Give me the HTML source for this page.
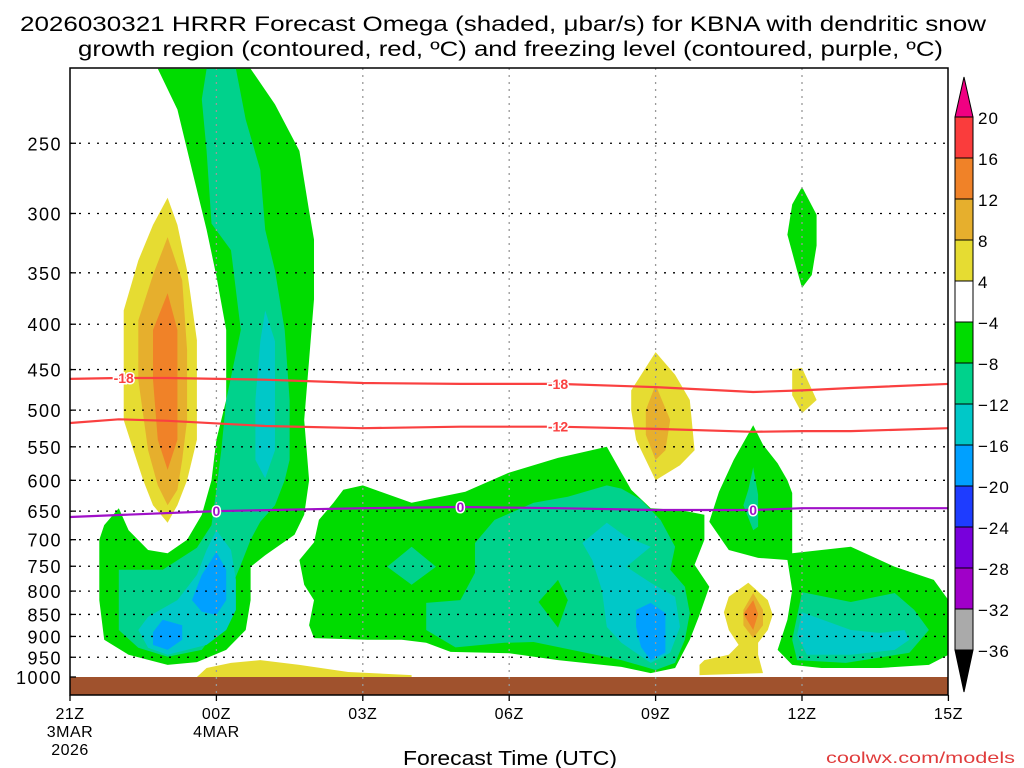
<!DOCTYPE html>
<html><head><meta charset="utf-8"><style>
html,body{margin:0;padding:0;background:#fff;}
svg{display:block;font-family:"Liberation Sans",sans-serif;}
</style></head><body>
<svg id="chart" width="1024" height="768" viewBox="0 0 1024 768">
<text x="20" y="31" font-size="21" textLength="966" lengthAdjust="spacingAndGlyphs">2026030321 HRRR Forecast Omega (shaded, μbar/s) for KBNA with dendritic snow</text>
<text x="78" y="56" font-size="21" textLength="865" lengthAdjust="spacingAndGlyphs">growth region (contoured, red, ºC) and freezing level (contoured, purple, ºC)</text>
<defs><clipPath id="pc"><rect x="70" y="68" width="878" height="627"/></clipPath></defs>
<g id="fills" clip-path="url(#pc)"></g>
<rect x="70" y="677" width="878" height="18" fill="#a0522d"/>
<g id="grid"></g>
<g id="lines" clip-path="url(#pc)"></g>
<rect x="70" y="68" width="878" height="627" fill="none" stroke="#000" stroke-width="1.5"/>
<g id="axes"></g>
<g id="cbar"></g>
<text x="403" y="765" font-size="20" textLength="214" lengthAdjust="spacingAndGlyphs">Forecast Time (UTC)</text>
<text x="826" y="763" font-size="16" fill="#e03c3c" textLength="189" lengthAdjust="spacingAndGlyphs">coolwx.com/models</text>
</svg>
<script>
// axis data
const pLevels=[250,300,350,400,450,500,550,600,650,700,750,800,850,900,950,1000];
const xTickHours=[0,3,6,9,12,15,18];
const xTickLabels=["21Z","00Z","03Z","06Z","09Z","12Z","15Z"];
const xTickSub1=["3MAR","4MAR","","","","",""];
const xTickSub2=["2026","","","","","",""];
// isotherm lines (hours since 21Z, pressure hPa)
const isoHours=[0,1,2,4,6,8,10,12,14,15,16,18];
const iso18=[461,460,460,462,466,467,467,471,477,475,472,467];
const iso12=[517,512,514,521,524,522,522,525,529,528,528,524];
const frzHours=[0,3,6,8,10,12,14,15,18];
const frz0=[660,650,645,643,645,648,648,645,645];
// contour regions [hour, hPa]
const greenLeft=[[1.8,206],[3.7,206],[4.2,226],[4.7,255],[4.9,298],[5.0,321],[5.0,375],[4.9,439],[4.8,513],[4.9,600],[4.8,656],[4.6,691],[4.0,729],[3.7,751],[3.7,819],[3.6,885],[3.2,932],[2.6,962],[2.0,969],[1.2,944],[0.7,908],[0.6,819],[0.6,700],[0.7,674],[1.0,645],[1.2,683],[1.6,719],[2.0,725],[2.4,700],[2.7,656],[2.9,600],[3.0,540],[3.2,487],[3.2,406],[3.0,353],[2.8,313],[2.5,268],[2.2,229]];
const tealLeft=[[2.8,206],[3.4,206],[3.6,235],[3.9,268],[4.0,313],[4.2,348],[4.4,406],[4.5,487],[4.5,569],[4.4,600],[4.2,640],[3.9,668],[3.7,700],[3.5,747],[3.2,819],[3.0,885],[2.7,932],[2.0,949],[1.4,927],[1.0,885],[1.0,757],[1.9,757],[2.6,715],[2.9,674],[3.0,615],[3.1,555],[3.2,487],[3.5,406],[3.3,330],[2.9,308],[2.8,255],[2.7,223]];
const cyanBand=[[4.0,386],[4.2,418],[4.2,487],[4.2,555],[4.0,597],[3.8,569],[3.8,487],[3.9,418]];
const cyanLow=[[3.0,683],[3.3,719],[3.4,777],[3.4,840],[3.2,885],[2.8,920],[2.0,944],[1.6,927],[1.4,885],[1.6,855],[2.2,819],[2.6,767],[2.8,719]];
const blueLow1=[[3.0,723],[3.2,757],[3.2,819],[3.0,851],[2.7,844],[2.5,819],[2.7,767]];
const blueLow2=[[1.9,862],[2.3,874],[2.3,908],[2.0,932],[1.7,920],[1.7,890]];
const yellowLeft=[[2.0,288],[2.2,309],[2.4,348],[2.6,417],[2.6,462],[2.6,540],[2.4,600],[2.2,640],[2.0,670],[1.7,640],[1.5,600],[1.3,555],[1.1,513],[1.1,386],[1.4,339],[1.7,309]];
const goldLeft=[[2.0,319],[2.3,357],[2.4,428],[2.4,513],[2.3,569],[2.2,615],[2.0,640],[1.8,608],[1.6,555],[1.4,462],[1.4,396],[1.7,352]];
const orangeLeft=[[2.0,369],[2.2,406],[2.2,487],[2.2,540],[2.0,584],[1.8,540],[1.7,462],[1.7,406]];
const yellowBottom=[[2.6,1000],[2.8,977],[3.3,964],[3.9,957],[4.7,969],[5.7,987],[7.0,995],[7.0,1000]];
const greenCenter=[[5.0,705],[5.1,665],[5.4,636],[5.6,615],[6.0,608],[7.0,636],[8.1,618],[9.0,588],[10.0,566],[11.0,550],[11.3,588],[11.5,615],[11.9,645],[12.5,648],[13.0,656],[13.0,700],[12.8,747],[13.1,791],[12.9,851],[12.7,908],[12.4,977],[11.9,990],[11.3,974],[10.0,957],[9.0,940],[7.8,937],[7.3,915],[6.8,908],[6.1,908],[5.0,904],[4.9,874],[5.0,819],[4.8,787],[4.7,738]];
const tealCenter=[[11.0,608],[11.3,613],[11.7,631],[12.1,665],[12.4,713],[12.3,757],[12.6,791],[12.7,847],[12.6,908],[12.4,964],[12.0,982],[11.3,957],[9.5,913],[8.9,915],[7.9,926],[7.3,885],[7.3,825],[8.0,819],[8.3,763],[8.3,706],[8.7,665],[9.5,636],[10.2,626]];
const tealDiamond=[[6.5,751],[7.0,713],[7.5,751],[7.0,787]];
const greenHole=[[10.0,777],[10.2,819],[10.0,880],[9.6,823]];
const cyanCenter=[[10.5,706],[11.0,670],[11.4,695],[11.9,713],[11.4,751],[11.9,783],[12.4,812],[12.5,878],[12.3,939],[11.9,964],[11.3,915],[11.0,878],[10.9,798],[10.7,738]];
const blueCenter=[[11.6,840],[11.9,825],[12.2,847],[12.2,939],[11.9,957],[11.7,925],[11.6,878]];
const yellow09=[[12.0,430],[12.4,456],[12.7,487],[12.8,555],[12.5,577],[12.0,600],[11.6,540],[11.5,500],[11.5,475]];
const gold09=[[12.0,468],[12.3,513],[12.2,555],[12.0,569],[11.8,533],[11.8,500]];
const green12=[[15.0,280],[15.3,301],[15.3,326],[15.2,352],[15.0,364],[14.9,348],[14.7,317],[14.8,293]];
const yellowSmall=[[14.8,450],[15.0,448],[15.3,487],[15.0,504],[14.8,481]];
const greenRight=[[14.0,520],[14.2,547],[14.5,574],[14.7,600],[14.8,620],[14.8,670],[14.8,725],[16.0,713],[16.9,751],[17.7,777],[18.0,819],[18.0,944],[17.6,969],[16.6,977],[15.4,977],[14.8,969],[14.5,932],[14.7,862],[14.8,798],[14.7,738],[14.1,734],[13.5,719],[13.1,668],[13.3,618],[13.6,569]];
const teal11=[[14.0,580],[14.1,623],[14.1,677],[14.0,683],[13.8,640],[13.9,615]];
const tealRight=[[15.0,802],[16.0,823],[16.9,804],[17.3,840],[17.6,885],[17.2,939],[15.9,964],[14.9,957],[14.8,908]];
const cyanRight=[[15.0,845],[16.0,885],[16.6,892],[17.1,885],[17.2,908],[16.9,932],[16.0,944],[15.1,944],[14.9,897]];
const yellow11=[[13.9,783],[14.3,819],[14.4,851],[14.3,885],[14.1,915],[14.1,944],[14.2,990],[12.9,995],[12.9,969],[13.0,957],[13.5,944],[13.7,920],[13.5,885],[13.4,845],[13.5,812]];
const gold11=[[14.0,804],[14.2,840],[14.2,874],[14.0,904],[13.8,874],[13.8,840]];
const orange11=[[14.0,819],[14.1,849],[14.0,885],[13.8,849]];
// colorbar
const cbLabels=["20","16","12","8","4","−4","−8","−12","−16","−20","−24","−28","−32","−36"];
const cbColors=["#fa3c3c","#f08228","#e6af2d","#e6dc32","#ffffff","#00dc00","#00d28c","#00c8c8","#00a0ff","#1e3cff","#7800dc","#a000c8","#aaaaaa"];

const NS="http://www.w3.org/2000/svg";
const X0=70,XW=48.8,Y0=677,YK=385;
function xs(h){return X0+XW*h;}
function ys(p){return Y0-YK*Math.log(1000/p);}
function mk(tag,attrs,parent){const e=document.createElementNS(NS,tag);for(const k in attrs)e.setAttribute(k,attrs[k]);parent.appendChild(e);return e;}
const fills=document.getElementById('fills');
const C={g:"#00dc00",t:"#00d28c",c:"#00c8c8",b:"#00a0ff",y:"#e6dc32",o1:"#e6af2d",o2:"#f08228",w:"#ffffff"};
const regions=[[greenLeft,C.g,'green-region-left'],[greenCenter,C.g,'green-region-center'],[greenRight,C.g,'green-region-right'],[green12,C.g,'green-region-12z'],
[tealLeft,C.t,'teal-region-left'],[tealCenter,C.t,'teal-region-center'],[tealDiamond,C.t,'teal-region-diamond'],[teal11,C.t,'teal-region-11z'],[tealRight,C.t,'teal-region-right'],
[greenHole,C.g,'green-hole-center'],
[cyanBand,C.c,'cyan-region-band'],[cyanLow,C.c,'cyan-region-low'],[cyanCenter,C.c,'cyan-region-center'],[cyanRight,C.c,'cyan-region-right'],
[blueLow1,C.b,'blue-region-low1'],[blueLow2,C.b,'blue-region-low2'],[blueCenter,C.b,'blue-region-center'],
[yellowLeft,C.y,'yellow-region-left'],[yellowBottom,C.y,'yellow-region-bottom'],[yellow09,C.y,'yellow-region-09z'],[yellowSmall,C.y,'yellow-region-small'],[yellow11,C.y,'yellow-region-11z'],
[goldLeft,C.o1,'gold-region-left'],[gold09,C.o1,'gold-region-09z'],[gold11,C.o1,'gold-region-11z'],
[orangeLeft,C.o2,'orange-region-left'],[orange11,C.o2,'orange-region-11z']];
regions.forEach(r=>{
  const pts=r[0].map(d=>xs(d[0]).toFixed(1)+","+ys(d[1]).toFixed(1)).join(" ");
  const e=mk('polygon',{points:pts,fill:r[1]},fills);
  
  
});
// grid
const grid=document.getElementById('grid');
pLevels.forEach(p=>{
  if(p>=1000)return;
  const e=mk('line',{x1:70,x2:948,y1:ys(p),y2:ys(p),stroke:"#000","stroke-width":1.3,"stroke-dasharray":"2,7"},grid);
  
  
});
xTickHours.forEach(h=>{
  if(h===0||h===18)return;
  const e=mk('line',{x1:xs(h),x2:xs(h),y1:68,y2:695,stroke:"#999","stroke-width":1.3,"stroke-dasharray":"2,5"},grid);
  
  
});
// lines
const lines=document.getElementById('lines');
function drawLine(hs,ps,color,name){
  const d=hs.map((h,i)=>(i?"L":"M")+xs(h).toFixed(1)+","+ys(ps[i]).toFixed(1)).join("");
  const e=mk('path',{d:d,fill:"none",stroke:color,"stroke-width":2.2},lines);
  
  
}
drawLine(isoHours,iso18,"#fa4040",'isotherm-minus18');
drawLine(isoHours,iso12,"#fa4040",'isotherm-minus12');
drawLine(frzHours,frz0,"#a010c8",'freezing-level-line');
function interp(hs,ps,h){for(let i=0;i<hs.length-1;i++){if(h>=hs[i]&&h<=hs[i+1]){const t=(h-hs[i])/(hs[i+1]-hs[i]);return ps[i]+t*(ps[i+1]-ps[i]);}}return ps[ps.length-1];}
const lbls=[[1.1,isoHours,iso18,"-18","#fa4040"],[10.0,isoHours,iso18,"-18","#fa4040"],[10.0,isoHours,iso12,"-12","#fa4040"],[3.0,frzHours,frz0,"0","#a010c8"],[8.0,frzHours,frz0,"0","#a010c8"],[14.0,frzHours,frz0,"0","#a010c8"]];
lbls.forEach(l=>{
  const x=xs(l[0]),y=ys(interp(l[1],l[2],l[0]));
  const e=mk('text',{x:x,y:y+5,"font-size":14,"font-weight":"bold",fill:l[4],"text-anchor":"middle",stroke:"#fff","stroke-width":3,"paint-order":"stroke"},lines);
  e.textContent=l[3];
  
  
});
// axes
const axes=document.getElementById('axes');
pLevels.forEach(p=>{
  const y=ys(p);
  const t=mk('line',{x1:70,x2:76,y1:y,y2:y,stroke:"#000","stroke-width":1.3},axes);
  
  
  const e=mk('text',{x:62,y:y+7,"font-size":18,"letter-spacing":"1.5","text-anchor":"end"},axes);
  e.textContent=p;
  
  
});
xTickHours.forEach((h,i)=>{
  const x=xs(h);
  const t=mk('line',{x1:x,x2:x,y1:695,y2:701,stroke:"#000","stroke-width":1.3},axes);
  
  
  [[xTickLabels[i],719],[xTickSub1[i],737],[xTickSub2[i],755]].forEach(s=>{
    if(!s[0])return;
    const e=mk('text',{x:x,y:s[1],"font-size":16,"letter-spacing":"0.5","text-anchor":"middle"},axes);
    e.textContent=s[0];
    
    
  });
});
// colorbar
const cb=document.getElementById('cbar');
const CBX=955,CBW=18,CBT=117,CBS=41;
const cbTopArrow=mk('polygon',{points:`${CBX},${CBT} ${CBX+CBW},${CBT} ${CBX+CBW/2},${CBT-40}`,fill:"#f00082",stroke:"#000","stroke-width":1},cb);


cbColors.forEach((c,i)=>{
  const e=mk('rect',{x:CBX,y:CBT+i*CBS,width:CBW,height:CBS,fill:c,stroke:"#000","stroke-width":1},cb);
  
  
});
const cbBottomY=CBT+cbColors.length*CBS;
const cbBotArrow=mk('polygon',{points:`${CBX},${cbBottomY} ${CBX+CBW},${cbBottomY} ${CBX+CBW/2},${cbBottomY+42}`,fill:"#000",stroke:"#000","stroke-width":1},cb);


cbLabels.forEach((l,i)=>{
  const e=mk('text',{x:978,y:CBT+i*CBS+7,"font-size":17,"letter-spacing":"1"},cb);
  e.textContent=l;
  
  
});
</script>
</body></html>
